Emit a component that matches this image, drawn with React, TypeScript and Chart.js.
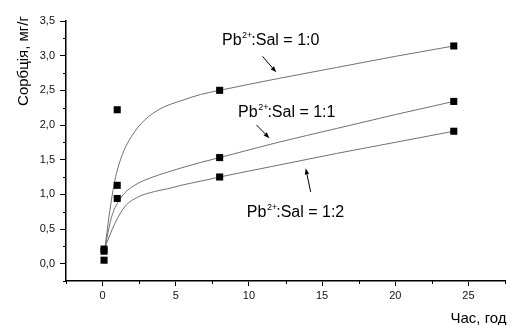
import React, { useEffect, useRef } from 'react';
import { Chart, registerables } from 'chart.js';

Chart.register(...registerables);

// Measured points (time, h → sorption, mg/g)
const pointTimes = [0.1, 1, 8, 24];
const sorption10 = [0.21, 2.22, 2.5, 3.14];
const sorption11 = [0.18, 1.13, 1.53, 2.34];
const sorption12 = [0.05, 0.94, 1.25, 1.91];

// Fitted curves
const fit10Time = [0.17, 0.5, 0.84, 1.29, 1.96, 2.87, 4.0, 5.36, 6.7, 8, 12, 16, 20, 24];
const fit10Value = [0.24, 0.77, 1.2, 1.54, 1.83, 2.07, 2.24, 2.35, 2.44, 2.5, 2.67, 2.83, 2.99, 3.14];
const fit11Time = [0.17, 0.61, 1.28, 2.19, 3.31, 4.44, 5.36, 6.7, 8, 12, 16, 20, 24];
const fit11Value = [0.24, 0.67, 0.96, 1.13, 1.24, 1.32, 1.38, 1.46, 1.53, 1.75, 1.95, 2.15, 2.34];
const fit12Time = [0.17, 0.84, 1.51, 2.41, 3.54, 4.44, 5.36, 6.7, 8, 12, 16, 20, 24];
const fit12Value = [0.24, 0.58, 0.82, 0.96, 1.04, 1.08, 1.13, 1.19, 1.25, 1.42, 1.59, 1.75, 1.91];

const xTickValues = [0, 5, 10, 15, 20, 25];
const xMinorValues = [-2.5, 2.5, 7.5, 12.5, 17.5, 22.5, 27.5];
const yTickValues = [0, 0.5, 1, 1.5, 2, 2.5, 3, 3.5];
const yMinorValues = [-0.25, 0.25, 0.75, 1.25, 1.75, 2.25, 2.75, 3.25];

const xTitle = 'Час, год';
const yTitle = 'Сорбція, мг/г';
const ratioLabels = ['1:0', '1:1', '1:2'];

const FONT = '"Liberation Sans", Arial, sans-serif';

// Annotation layout (data coordinates): label anchor, arrow tail, arrow head
const annotations = [
  { label: ratioLabels[0], at: [8.16, 3.16], tail: [10.93, 2.99], head: [11.87, 2.76] },
  { label: ratioLabels[1], at: [9.26, 2.115], tail: [10.52, 2.0], head: [11.4, 1.81] },
  { label: ratioLabels[2], at: [9.86, 0.68], tail: [14.22, 1.035], head: [13.88, 1.375] },
];

const toXY = (xs: number[], ys: number[]) => xs.map((x, i) => ({ x, y: ys[i] }));

const overlayPlugin = {
  id: 'overlay',
  afterDraw(chart: any) {
    const ctx = chart.ctx as CanvasRenderingContext2D;
    const xs = chart.scales.x;
    const ys = chart.scales.y;
    const area = chart.chartArea;
    ctx.save();
    // minor ticks
    ctx.strokeStyle = '#000';
    ctx.lineWidth = 1;
    ctx.beginPath();
    xMinorValues.forEach((v) => {
      const px = Math.round(xs.getPixelForValue(v)) + 0.5;
      ctx.moveTo(px, area.bottom);
      ctx.lineTo(px, area.bottom + 3);
    });
    yMinorValues.forEach((v) => {
      const py = Math.round(ys.getPixelForValue(v)) + 0.5;
      ctx.moveTo(area.left - 3, py);
      ctx.lineTo(area.left, py);
    });
    ctx.stroke();

    // axis titles
    ctx.fillStyle = '#000';
    ctx.font = `15px ${FONT}`;
    ctx.textAlign = 'left';
    ctx.textBaseline = 'alphabetic';
    ctx.fillText(xTitle, 450.5, 322.5);
    ctx.save();
    ctx.translate(27.5, 61);
    ctx.rotate(-Math.PI / 2);
    ctx.textAlign = 'center';
    ctx.textBaseline = 'alphabetic';
    ctx.fillText(yTitle, 0, 0);
    ctx.restore();

    // annotations
    annotations.forEach((a) => {
      let x = xs.getPixelForValue(a.at[0]);
      const y = ys.getPixelForValue(a.at[1]);
      ctx.textAlign = 'left';
      ctx.textBaseline = 'alphabetic';
      ctx.font = `16px ${FONT}`;
      ctx.fillText('Pb', x, y);
      x += ctx.measureText('Pb').width + 0.5;
      ctx.font = `9px ${FONT}`;
      ctx.fillText('2+', x, y - 7);
      x += ctx.measureText('2+').width - 1;
      ctx.font = `16px ${FONT}`;
      ctx.fillText(`:Sal = ${a.label}`, x, y);

      const tx = xs.getPixelForValue(a.tail[0]);
      const ty = ys.getPixelForValue(a.tail[1]);
      const hx = xs.getPixelForValue(a.head[0]);
      const hy = ys.getPixelForValue(a.head[1]);
      const ang = Math.atan2(hy - ty, hx - tx);
      const len = 6;
      const wid = 2.2;
      const bx = hx - len * Math.cos(ang);
      const by = hy - len * Math.sin(ang);
      ctx.strokeStyle = '#000';
      ctx.lineWidth = 1;
      ctx.beginPath();
      ctx.moveTo(tx, ty);
      ctx.lineTo(bx, by);
      ctx.stroke();
      ctx.beginPath();
      ctx.moveTo(hx, hy);
      ctx.lineTo(bx + wid * Math.sin(ang), by - wid * Math.cos(ang));
      ctx.lineTo(bx - wid * Math.sin(ang), by + wid * Math.cos(ang));
      ctx.closePath();
      ctx.fill();
    });
    ctx.restore();
  },
};

export default function App() {
  const canvasRef = useRef<HTMLCanvasElement | null>(null);

  useEffect(() => {
    if (!canvasRef.current) return;
    const pointDs = (vals: number[]) => ({
      data: toXY(pointTimes, vals),
      showLine: false,
      pointStyle: 'rect',
      pointRadius: 5,
      pointHoverRadius: 5,
      backgroundColor: '#000',
      borderColor: '#000',
      pointBorderWidth: 0,
    });
    const curveDs = (t: number[], v: number[]) => ({
      data: toXY(t, v),
      showLine: true,
      pointRadius: 0,
      borderColor: '#707070',
      borderWidth: 1,
      cubicInterpolationMode: 'monotone',
      fill: false,
    });
    const chart = new Chart(canvasRef.current, {
      type: 'scatter',
      data: {
        datasets: [
          pointDs(sorption10),
          pointDs(sorption11),
          pointDs(sorption12),
          curveDs(fit10Time, fit10Value),
          curveDs(fit11Time, fit11Value),
          curveDs(fit12Time, fit12Value),
        ] as any,
      },
      options: {
        animation: false,
        responsive: false,
        devicePixelRatio: 1,
        layout: { padding: { top: 21, right: 0, left: 0, bottom: 0 } },
        plugins: { legend: { display: false }, tooltip: { enabled: false } },
        scales: {
          x: {
            type: 'linear',
            min: -2.5,
            max: 27.5,
            afterBuildTicks: (s: any) => {
              s.ticks = xTickValues.map((v) => ({ value: v }));
            },
            afterFit: (s: any) => {
              s.height = 44;
            },
            ticks: {
              autoSkip: false,
              maxRotation: 0,
              padding: 3,
              color: '#111',
              font: { family: FONT, size: 11 },
              callback: (v: any) => String(v),
            },
            grid: { drawOnChartArea: false, drawTicks: true, tickLength: 5, tickColor: '#000', tickWidth: 1 },
            border: { display: true, color: '#000', width: 1.5 },
          },
          y: {
            type: 'linear',
            min: -0.25,
            max: 3.5,
            afterBuildTicks: (s: any) => {
              s.ticks = yTickValues.map((v) => ({ value: v }));
            },
            afterFit: (s: any) => {
              s.width = 66;
            },
            ticks: {
              autoSkip: false,
              padding: 5,
              color: '#111',
              font: { family: FONT, size: 11 },
              callback: (v: any) => Number(v).toFixed(1).replace('.', ','),
            },
            grid: { drawOnChartArea: false, drawTicks: true, tickLength: 6, tickColor: '#000', tickWidth: 1 },
            border: { display: true, color: '#000', width: 1.5 },
          },
        },
      } as any,
      plugins: [overlayPlugin],
    });
    return () => chart.destroy();
  }, []);

  return (
    <div style={{ position: 'absolute', left: 0, top: 0, width: 510, height: 325, background: '#fff' }}>
      <canvas ref={canvasRef} width={510} height={325} style={{ display: 'block' }} />
    </div>
  );
}
